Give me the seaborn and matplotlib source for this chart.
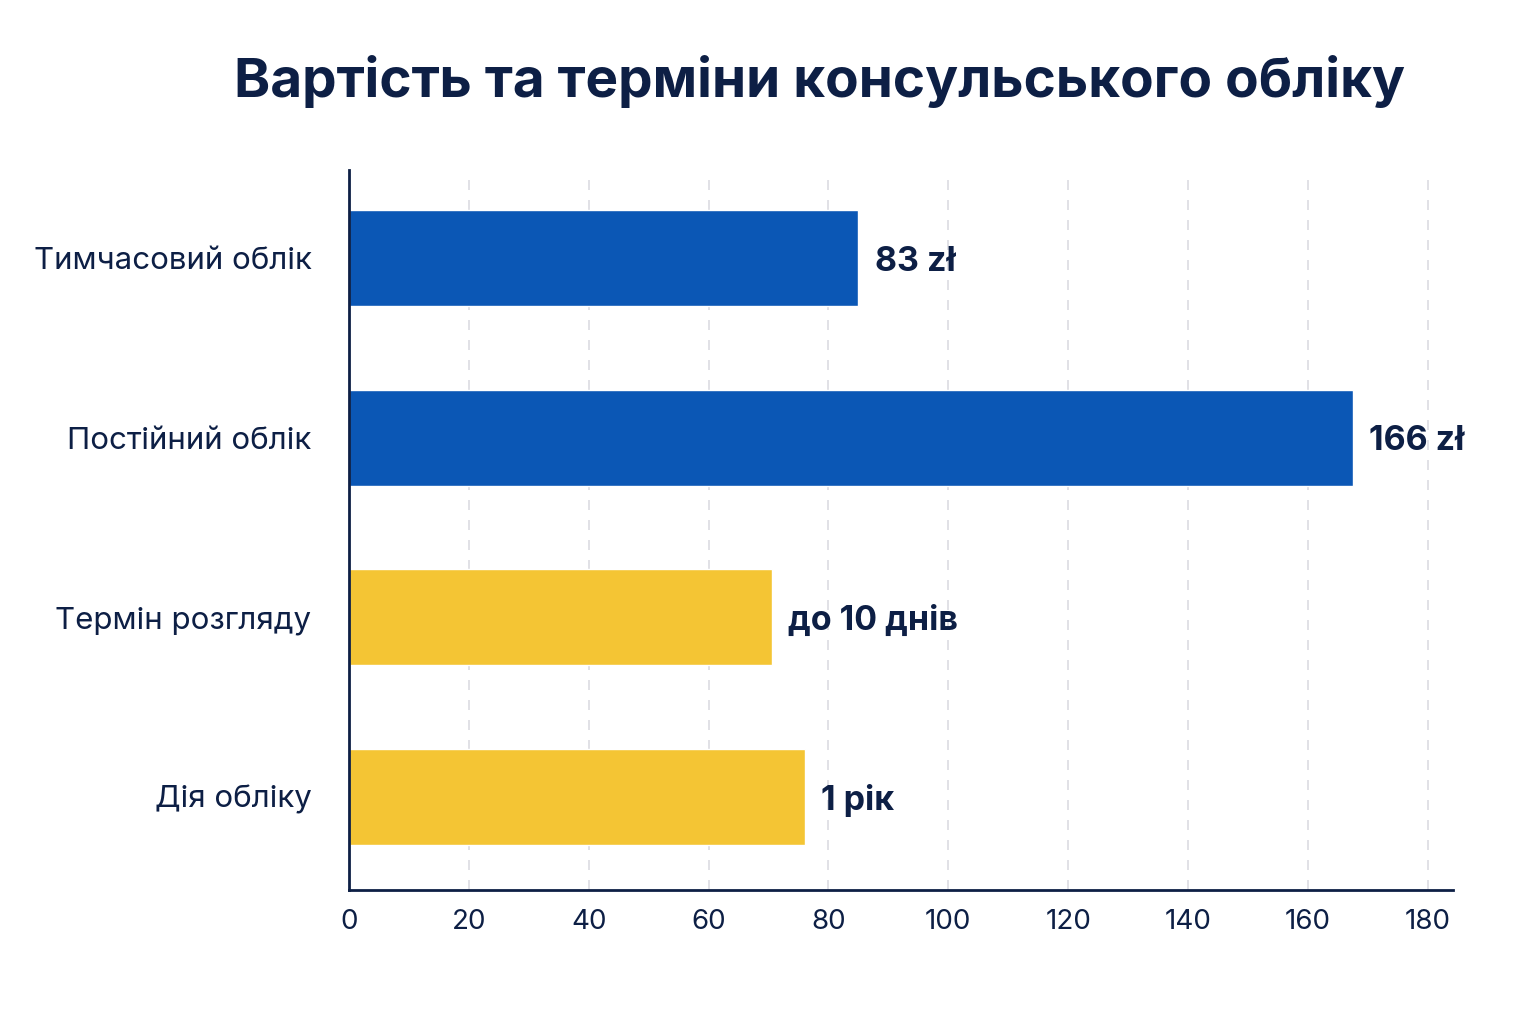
import matplotlib
matplotlib.use("Agg")
import matplotlib.pyplot as plt
import seaborn as sns
import pandas as pd

categories = ["Тимчасовий облік", "Постійний облік", "Термін розгляду", "Дія обліку"]
values = [85, 167.5, 70.5, 76]
value_labels = ["83 zł", "166 zł", "до 10 днів", "1 рік"]
bar_colors = ["#0B57B5", "#0B57B5", "#F4C534", "#F4C534"]
x_ticks = [0, 20, 40, 60, 80, 100, 120, 140, 160, 180]
title = "Вартість та терміни консульського обліку"

NAVY = "#0D1F45"

sns.set_theme(style="white")
plt.rcParams["font.family"] = ["Inter", "DejaVu Sans"]

df = pd.DataFrame({"category": categories, "value": values})

fig = plt.figure(figsize=(15.36, 10.24), dpi=100)
ax = fig.add_axes([349/1536, 1 - 890/1024, (1453-349)/1536, (890-170)/1024])

sns.barplot(data=df, x="value", y="category", hue="category", palette=bar_colors,
            legend=False, width=0.535, ax=ax, saturation=1)

ax.set_xlim(0, 184.2)
ax.set_ylim(3.52, -0.49)
ax.set_xticks(x_ticks)
ax.set_xticklabels([str(t) for t in x_ticks])
ax.set_xlabel("")
ax.set_ylabel("")
ax.tick_params(axis="both", length=0, colors=NAVY)
ax.tick_params(axis="x", labelsize=20, pad=14)
ax.tick_params(axis="y", labelsize=22.5, pad=27)
for lab in ax.get_yticklabels():
    lab.set_color(NAVY)
for lab in ax.get_xticklabels():
    lab.set_color(NAVY)

ax.grid(axis="x", color="#DCDCE2", linestyle=(0, (6, 6)), linewidth=1.2)
ax.set_axisbelow(True)
for s in ["top", "right"]:
    ax.spines[s].set_visible(False)
for s in ["left", "bottom"]:
    ax.spines[s].set_color(NAVY)
    ax.spines[s].set_linewidth(2)

for i, (v, lab) in enumerate(zip(values, value_labels)):
    ax.text(v + 2.7, i + 0.02, lab, va="center", ha="left", fontsize=24.5,
            fontweight="bold", color=NAVY)

fig.text(820/1536, 1 - 82/1024, title, ha="center", va="center",
         fontsize=39.5, fontweight="bold", color=NAVY)

fig.savefig("out.png", dpi=100, facecolor="white")
